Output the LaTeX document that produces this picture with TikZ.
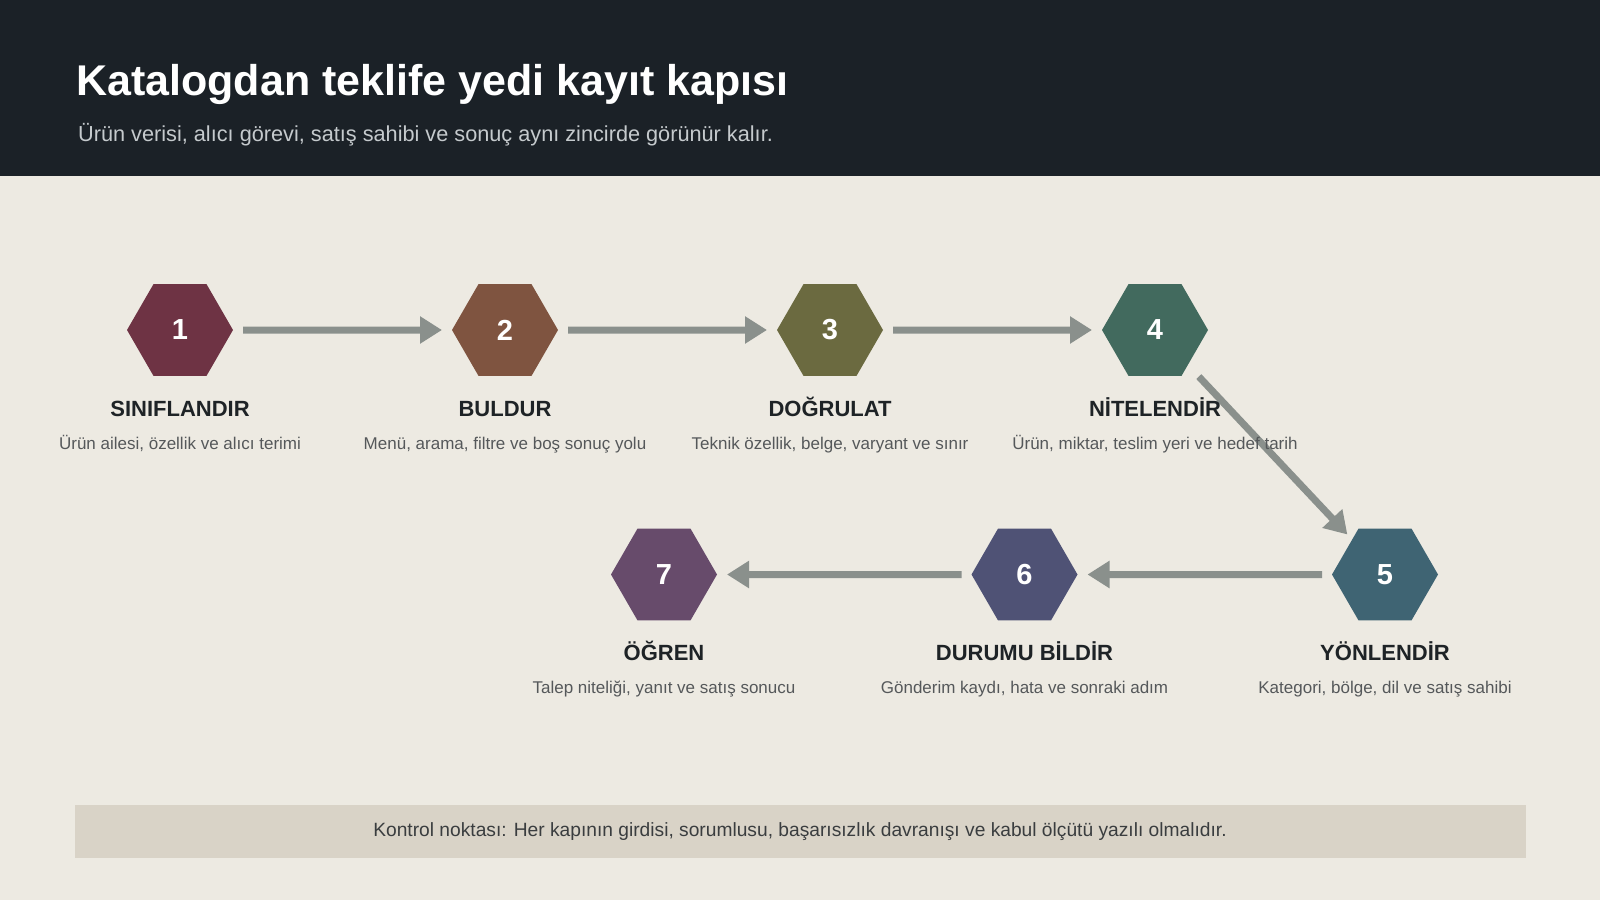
\documentclass[tikz,border=0pt]{standalone}
\usepackage{fontspec}
\setmainfont{Liberation Sans}
\usepackage{xcolor}
\usetikzlibrary{positioning,shapes.geometric,arrows.meta}

\definecolor{headbg}{HTML}{1B2127}
\definecolor{pagebg}{HTML}{EDEAE2}
\definecolor{footbg}{HTML}{D9D3C7}
\definecolor{flowcol}{HTML}{8A908C}
\definecolor{subcol}{HTML}{C5CACD}
\definecolor{titlecol}{HTML}{1E2326}
\definecolor{notecol}{HTML}{55585A}
\definecolor{footcol}{HTML}{3A3D3F}
\definecolor{gateA}{HTML}{6E3344}
\definecolor{gateB}{HTML}{7F5440}
\definecolor{gateC}{HTML}{6B6A40}
\definecolor{gateD}{HTML}{426A5E}
\definecolor{gateE}{HTML}{3F6473}
\definecolor{gateF}{HTML}{4F5275}
\definecolor{gateG}{HTML}{674B6B}

\tikzset{
  gatehex/.style={regular polygon, regular polygon sides=6, minimum size=106pt,
    inner sep=0pt, outer sep=0pt, text=white, font=\fontsize{29}{34}\selectfont\bfseries},
  gatetitle/.style={anchor=base, inner sep=0pt, text=titlecol,
    font=\fontsize{22}{26}\selectfont\bfseries},
  gatenote/.style={anchor=base, inner sep=0pt, text=notecol,
    font=\fontsize{17}{20}\selectfont},
  flowarrow/.style={draw=flowcol, line width=7pt,
    -{Triangle[length=22pt,width=26pt]}, shorten >=10pt, shorten <=10pt}
}

\begin{document}
\begin{tikzpicture}[x=1pt,y=-1pt]
\fill[pagebg] (0,0) rectangle (1600,900); % page
\fill[headbg] (0,0) rectangle (1600,175.5); % header band
\useasboundingbox (0,0) rectangle (1600,900);
\node[anchor=base west, inner sep=0pt, text=white, font=\fontsize{43}{50}\selectfont\bfseries]
  (head) at (76,95) {Katalogdan teklife yedi kayıt kapısı};
\node[anchor=base west, inner sep=0pt, text=subcol, font=\fontsize{21.7}{26}\selectfont]
  (sub) at (78,141) {Ürün verisi, alıcı görevi, satış sahibi ve sonuç aynı zincirde görünür kalır.};
%% The seven gates.
\node[gatehex, fill=gateA] (g1) at (180,330) {1};
\node[gatehex, fill=gateB] (g2) at (505,330) {2};
\node[gatehex, fill=gateC] (g3) at (830,330) {3};
\node[gatehex, fill=gateD] (g4) at (1155,330) {4};
\node[gatehex, fill=gateE] (g5) at (1385,574.5) {5};
\node[gatehex, fill=gateF] (g6) at (1024.5,574.5) {6};
\node[gatehex, fill=gateG] (g7) at (664,574.5) {7};
%% Flow between the gates.
\draw[flowarrow] (g1) -- (g2); % 1-2
\draw[flowarrow] (g2) -- (g3); % 2-3
\draw[flowarrow] (g3) -- (g4); % 3-4
\draw[flowarrow, shorten >=7pt, shorten <=16pt] (g4) -- (g5); % 4-5
\draw[flowarrow] (g5) -- (g6); % 5-6
\draw[flowarrow] (g6) -- (g7); % 6-7
%% Names and notes under the gates.
\node[below = 86pt of g1.center, gatetitle] (t1) {SINIFLANDIR};
\node[below = 119pt of g1.center, gatenote] (n1) {Ürün ailesi, özellik ve alıcı terimi};
\node[below = 86pt of g2.center, gatetitle] (t2) {BULDUR};
\node[below = 119pt of g2.center, gatenote] (n2) {Menü, arama, filtre ve boş sonuç yolu};
\node[below = 86pt of g3.center, gatetitle] (t3) {DOĞRULAT};
\node[below = 119pt of g3.center, gatenote] (n3) {Teknik özellik, belge, varyant ve sınır};
\node[below = 86pt of g4.center, gatetitle] (t4) {NİTELENDİR};
\node[below = 119pt of g4.center, gatenote] (n4) {Ürün, miktar, teslim yeri ve hedef tarih};
\node[below = 86pt of g5.center, gatetitle] (t5) {YÖNLENDİR};
\node[below = 119pt of g5.center, gatenote] (n5) {Kategori, bölge, dil ve satış sahibi};
\node[below = 86pt of g6.center, gatetitle] (t6) {DURUMU BİLDİR};
\node[below = 119pt of g6.center, gatenote] (n6) {Gönderim kaydı, hata ve sonraki adım};
\node[below = 86pt of g7.center, gatetitle] (t7) {ÖĞREN};
\node[below = 119pt of g7.center, gatenote] (n7) {Talep niteliği, yanıt ve satış sonucu};
%% Check point bar.
\node[fill=footbg, minimum width=1451pt, minimum height=53pt, inner sep=0pt, text=footcol,
  font=\fontsize{19.2}{23}\selectfont] (foot) at (800,831.5)
  {Kontrol noktası: Her kapının girdisi, sorumlusu, başarısızlık davranışı ve kabul ölçütü yazılı olmalıdır.};
\end{tikzpicture}
\end{document}
